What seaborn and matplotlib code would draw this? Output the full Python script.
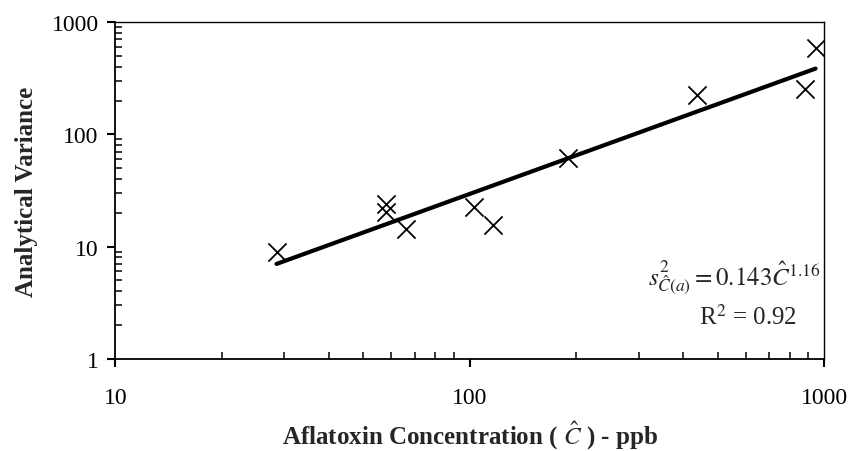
import matplotlib
matplotlib.use('Agg')
import matplotlib.pyplot as plt
import seaborn as sns
import pandas as pd

# data
conc = [28.5, 58, 58, 66, 103, 116, 189, 438, 884, 949]
variance = [9.0, 24, 20.5, 14.4, 22.5, 15.5, 61, 224, 254, 588]
fit_conc = [28.5, 945]
fit_var = [7.0, 385]

df = pd.DataFrame({'conc': conc, 'variance': variance})
fit = pd.DataFrame({'conc': fit_conc, 'variance': fit_var})

sns.set_style('ticks')
plt.rcParams['font.family'] = ['Liberation Serif', 'DejaVu Serif']
plt.rcParams['mathtext.fontset'] = 'stix'

fig, ax = plt.subplots(figsize=(8.48, 4.52), dpi=100)
fig.subplots_adjust(left=0.136, right=0.972, top=0.949, bottom=0.204)

sns.lineplot(data=fit, x='conc', y='variance', color='black', linewidth=3, ax=ax)
sns.scatterplot(data=df, x='conc', y='variance', marker='x', color='black',
                s=170, linewidth=1.3, ax=ax, zorder=5)

ax.set_xscale('log')
ax.set_yscale('log')
ax.set_xlim(10, 1000)
ax.set_ylim(1, 1000)

ax.set_xticks([10, 100, 1000])
ax.set_xticklabels(['10', '100', '1000'])
ax.set_yticks([1, 10, 100, 1000])
ax.set_yticklabels(['1', '10', '100', '1000'])

for s in ax.spines.values():
    s.set_visible(True)
    s.set_color('black')
    s.set_linewidth(1.3)
ax.spines['top'].set_linewidth(1.0)
ax.spines['right'].set_linewidth(1.0)

ax.tick_params(axis='both', which='major', direction='out', length=6, width=1.5,
               labelsize=17, colors='black')
ax.tick_params(axis='x', which='major', pad=14)
ax.tick_params(axis='y', which='major', pad=6)
ax.tick_params(axis='both', which='minor', direction='in', length=5, width=1.3)
ax.tick_params(top=False, right=False, which='both')

ax.set_xlabel('Aflatoxin Concentration ( $\\hat{C}$ ) - ppb', fontsize=18,
              fontweight='bold', labelpad=8)
ax.set_ylabel('Analytical Variance', fontsize=18, fontweight='bold', labelpad=10)

ax.text(0.995, 0.243, '$s^2_{\\hat{C}(a)} = 0.143\\hat{C}^{1.16}$', transform=ax.transAxes,
        ha='right', va='center', fontsize=18)
ax.text(0.962, 0.125, 'R$^2$ = 0.92', transform=ax.transAxes,
        ha='right', va='center', fontsize=18)

plt.savefig('out.png', dpi=100)
